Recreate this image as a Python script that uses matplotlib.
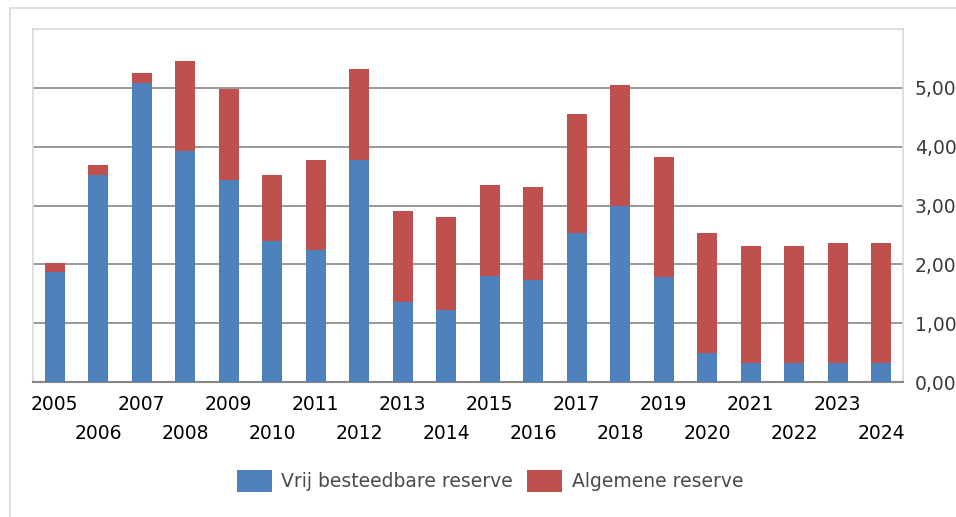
import numpy as np
import matplotlib
matplotlib.use("Agg")
import matplotlib.pyplot as plt
from matplotlib.lines import Line2D
from matplotlib.ticker import FixedLocator, FuncFormatter

# --- data ---
years = [str(y) for y in range(2005, 2025)]
vrij = [1.87, 3.52, 5.08, 3.92, 3.44, 2.39, 2.25, 3.78, 1.36, 1.23,
        1.81, 1.74, 2.53, 3.00, 1.78, 0.49, 0.32, 0.32, 0.32, 0.32]
totaal = [2.02, 3.69, 5.25, 5.45, 4.98, 3.52, 3.78, 5.32, 2.90, 2.80,
          3.34, 3.31, 4.56, 5.04, 3.82, 2.53, 2.32, 2.32, 2.36, 2.36]
algemeen = [t - v for t, v in zip(totaal, vrij)]
y_ticks = [0, 1, 2, 3, 4, 5]

BLUE = "#4F81BD"
RED = "#C0504D"
GRID = "#868686"
FRAME = "#D9D9D9"

W, H = 956, 517
fig = plt.figure(figsize=(W / 100, H / 100), dpi=100)
ax = fig.add_axes([33 / W, 1 - 382 / H, (903 - 33) / W, (382 - 29) / H])

xs = np.arange(len(years))
ax.bar(xs, vrij, width=0.45, color=BLUE, label="Vrij besteedbare reserve", zorder=3)
ax.bar(xs, algemeen, width=0.45, bottom=vrij, color=RED,
       label="Algemene reserve", zorder=3)

ax.set_xlim(-0.5, len(years) - 0.5)
ax.set_ylim(0, 6)

# y axis on the right, dutch decimal comma
ax.yaxis.tick_right()
ax.set_yticks(y_ticks)
ax.yaxis.set_major_formatter(FuncFormatter(lambda v, _: f"{v:.2f}".replace(".", ",")))
ax.tick_params(axis="y", length=0, pad=8.5, labelsize=13.5, labelcolor="#3a3a3a")
for v in y_ticks[1:]:
    ax.axhline(v, color=GRID, lw=1.2, zorder=1)

# staggered year labels: odd years top row, even years second row (pads in pt)
ax.xaxis.set_major_locator(FixedLocator(xs[0::2]))
ax.xaxis.set_minor_locator(FixedLocator(xs[1::2]))
ax.set_xticklabels(years[0::2])
ax.set_xticklabels(years[1::2], minor=True)
ax.tick_params(axis="x", which="major", length=0, pad=9.4, labelsize=13.5, labelcolor="black")
ax.tick_params(axis="x", which="minor", length=0, pad=30.2, labelsize=13.5, labelcolor="black")

for side in ("left", "top", "right"):
    ax.spines[side].set_color(FRAME)
    ax.spines[side].set_linewidth(1.2)
ax.spines["bottom"].set_color(GRID)
ax.spines["bottom"].set_linewidth(1.5)

# outer chart frame (left and top edges visible)
fig.add_artist(Line2D([10 / W, 10 / W], [0, 1 - 8 / H], transform=fig.transFigure,
                      color=FRAME, lw=1.2))
fig.add_artist(Line2D([10 / W, 1], [1 - 8 / H, 1 - 8 / H], transform=fig.transFigure,
                      color=FRAME, lw=1.2))

leg = fig.legend(loc="center", bbox_to_anchor=(490 / W, 1 - 481 / H), ncol=2,
                 frameon=False, fontsize=13.5, handlelength=1.87, handleheight=1.5,
                 handletextpad=0.5, columnspacing=0.75)
for t in leg.get_texts():
    t.set_color("#4a4a4a")

fig.savefig("out.png", dpi=100)
